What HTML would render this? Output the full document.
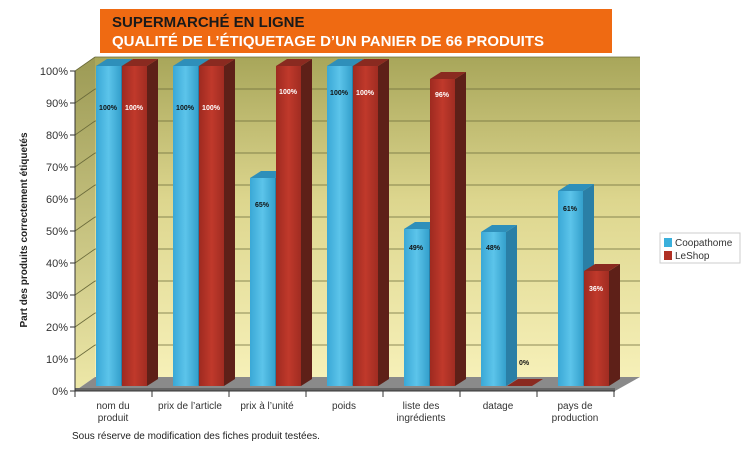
<!DOCTYPE html>
<html><head><meta charset="utf-8"><style>
body{margin:0;background:#fff;}
svg{display:block;font-family:"Liberation Sans",sans-serif;}
</style></head><body>
<svg width="750" height="450" viewBox="0 0 750 450" xmlns="http://www.w3.org/2000/svg">
<defs>
<linearGradient id="wall" x1="0" y1="0" x2="0" y2="1">
<stop offset="0" stop-color="#a8a65a"/><stop offset="0.45" stop-color="#ddd68e"/><stop offset="1" stop-color="#f6f0b8"/>
</linearGradient>
<linearGradient id="side" x1="0" y1="0" x2="0" y2="1">
<stop offset="0" stop-color="#9c9a55"/><stop offset="1" stop-color="#eee8a8"/>
</linearGradient>
<linearGradient id="blue" x1="0" y1="0" x2="1" y2="0">
<stop offset="0" stop-color="#3aa8d6"/><stop offset="0.5" stop-color="#5cc4ea"/><stop offset="1" stop-color="#34a0cc"/>
</linearGradient>
<linearGradient id="red" x1="0" y1="0" x2="1" y2="0">
<stop offset="0" stop-color="#9e2a20"/><stop offset="0.5" stop-color="#c0392b"/><stop offset="1" stop-color="#a02c22"/>
</linearGradient>
</defs>
<rect x="100" y="9" width="512" height="44" fill="#ef6a12"/>
<text x="112" y="27" font-size="15" font-weight="bold" fill="#1a1a1a">SUPERMARCHÉ EN LIGNE</text>
<text x="112" y="46" font-size="15" font-weight="bold" fill="#fff">QUALITÉ DE L’ÉTIQUETAGE D’UN PANIER DE 66 PRODUITS</text>
<rect x="95" y="57" width="545" height="320" fill="url(#wall)"/>
<polygon points="75,71 95,57 95,377 75,391" fill="url(#side)"/>
<g stroke="#6a6a3a" stroke-width="0.8">
<line x1="95" y1="57" x2="640" y2="57"/><line x1="75" y1="71" x2="95" y2="57"/>
<line x1="95" y1="89" x2="640" y2="89"/><line x1="75" y1="103" x2="95" y2="89"/>
<line x1="95" y1="121" x2="640" y2="121"/><line x1="75" y1="135" x2="95" y2="121"/>
<line x1="95" y1="153" x2="640" y2="153"/><line x1="75" y1="167" x2="95" y2="153"/>
<line x1="95" y1="185" x2="640" y2="185"/><line x1="75" y1="199" x2="95" y2="185"/>
<line x1="95" y1="217" x2="640" y2="217"/><line x1="75" y1="231" x2="95" y2="217"/>
<line x1="95" y1="249" x2="640" y2="249"/><line x1="75" y1="263" x2="95" y2="249"/>
<line x1="95" y1="281" x2="640" y2="281"/><line x1="75" y1="295" x2="95" y2="281"/>
<line x1="95" y1="313" x2="640" y2="313"/><line x1="75" y1="327" x2="95" y2="313"/>
<line x1="95" y1="345" x2="640" y2="345"/><line x1="75" y1="359" x2="95" y2="345"/>
</g>
<polygon points="75,391 95,377 640,377 615,391" fill="#8a8a8a"/>
<rect x="75" y="388" width="540" height="3" fill="#666"/>

<!-- bars: blue top #2e8fba side #2a7fa6 ; red top #8a2a20 side #5e2018 -->
<g>
<!-- cat0 -->
<polygon points="121,66 132,59 132,379 121,386" fill="#2a7fa6"/><polygon points="96,66 107,59 132,59 121,66" fill="#2e8fba"/><rect x="96" y="66" width="25" height="320" fill="url(#blue)"/>
<polygon points="147,66 158,59 158,379 147,386" fill="#5e2018"/><polygon points="122,66 133,59 158,59 147,66" fill="#8a2a20"/><rect x="122" y="66" width="25" height="320" fill="url(#red)"/>
<!-- cat1 -->
<polygon points="198,66 209,59 209,379 198,386" fill="#2a7fa6"/><polygon points="173,66 184,59 209,59 198,66" fill="#2e8fba"/><rect x="173" y="66" width="25" height="320" fill="url(#blue)"/>
<polygon points="224,66 235,59 235,379 224,386" fill="#5e2018"/><polygon points="199,66 210,59 235,59 224,66" fill="#8a2a20"/><rect x="199" y="66" width="25" height="320" fill="url(#red)"/>
<!-- cat2 -->
<polygon points="275,178 286,171 286,379 275,386" fill="#2a7fa6"/><polygon points="250,178 261,171 286,171 275,178" fill="#2e8fba"/><rect x="250" y="178" width="25" height="208" fill="url(#blue)"/>
<polygon points="301,66 312,59 312,379 301,386" fill="#5e2018"/><polygon points="276,66 287,59 312,59 301,66" fill="#8a2a20"/><rect x="276" y="66" width="25" height="320" fill="url(#red)"/>
<!-- cat3 -->
<polygon points="352,66 363,59 363,379 352,386" fill="#2a7fa6"/><polygon points="327,66 338,59 363,59 352,66" fill="#2e8fba"/><rect x="327" y="66" width="25" height="320" fill="url(#blue)"/>
<polygon points="378,66 389,59 389,379 378,386" fill="#5e2018"/><polygon points="353,66 364,59 389,59 378,66" fill="#8a2a20"/><rect x="353" y="66" width="25" height="320" fill="url(#red)"/>
<!-- cat4 -->
<polygon points="429,229 440,222 440,379 429,386" fill="#2a7fa6"/><polygon points="404,229 415,222 440,222 429,229" fill="#2e8fba"/><rect x="404" y="229" width="25" height="157" fill="url(#blue)"/>
<polygon points="455,79 466,72 466,379 455,386" fill="#5e2018"/><polygon points="430,79 441,72 466,72 455,79" fill="#8a2a20"/><rect x="430" y="79" width="25" height="307" fill="url(#red)"/>
<!-- cat5 -->
<polygon points="506,232 517,225 517,379 506,386" fill="#2a7fa6"/><polygon points="481,232 492,225 517,225 506,232" fill="#2e8fba"/><rect x="481" y="232" width="25" height="154" fill="url(#blue)"/>
<polygon points="507,386 518,379 543,379 532,386" fill="#8a2a20"/>
<!-- cat6 -->
<polygon points="583,191 594,184 594,379 583,386" fill="#2a7fa6"/><polygon points="558,191 569,184 594,184 583,191" fill="#2e8fba"/><rect x="558" y="191" width="25" height="195" fill="url(#blue)"/>
<polygon points="609,271 620,264 620,379 609,386" fill="#5e2018"/><polygon points="584,271 595,264 620,264 609,271" fill="#8a2a20"/><rect x="584" y="271" width="25" height="115" fill="url(#red)"/>
</g>
<g font-size="7" font-weight="bold" text-anchor="middle">
<text x="108" y="110" fill="#111">100%</text><text x="134" y="110" fill="#fff">100%</text>
<text x="185" y="110" fill="#111">100%</text><text x="211" y="110" fill="#fff">100%</text>
<text x="262" y="207" fill="#111">65%</text><text x="288" y="94" fill="#fff">100%</text>
<text x="339" y="95" fill="#111">100%</text><text x="365" y="95" fill="#fff">100%</text>
<text x="416" y="250" fill="#111">49%</text><text x="442" y="97" fill="#fff">96%</text>
<text x="493" y="250" fill="#111">48%</text><text x="524" y="365" fill="#111">0%</text>
<text x="570" y="211" fill="#111">61%</text><text x="596" y="291" fill="#fff">36%</text>
</g>

<g stroke="#333" stroke-width="1">
<line x1="75" y1="71" x2="75" y2="391"/>
<line x1="75" y1="391" x2="615" y2="391"/>
<line x1="70" y1="71" x2="75" y2="71"/><line x1="70" y1="103" x2="75" y2="103"/><line x1="70" y1="135" x2="75" y2="135"/><line x1="70" y1="167" x2="75" y2="167"/><line x1="70" y1="199" x2="75" y2="199"/><line x1="70" y1="231" x2="75" y2="231"/><line x1="70" y1="263" x2="75" y2="263"/><line x1="70" y1="295" x2="75" y2="295"/><line x1="70" y1="327" x2="75" y2="327"/><line x1="70" y1="359" x2="75" y2="359"/><line x1="70" y1="391" x2="75" y2="391"/>
<line x1="75" y1="391" x2="75" y2="397"/><line x1="152" y1="391" x2="152" y2="397"/><line x1="229" y1="391" x2="229" y2="397"/><line x1="306" y1="391" x2="306" y2="397"/><line x1="383" y1="391" x2="383" y2="397"/><line x1="460" y1="391" x2="460" y2="397"/><line x1="537" y1="391" x2="537" y2="397"/><line x1="614" y1="391" x2="614" y2="397"/>
</g>
<g font-size="11" fill="#333" text-anchor="end">
<text x="68" y="75">100%</text><text x="68" y="107">90%</text><text x="68" y="139">80%</text><text x="68" y="171">70%</text><text x="68" y="203">60%</text><text x="68" y="235">50%</text><text x="68" y="267">40%</text><text x="68" y="299">30%</text><text x="68" y="331">20%</text><text x="68" y="363">10%</text><text x="68" y="395">0%</text>
</g>
<text transform="translate(27,230) rotate(-90)" font-size="10" font-weight="bold" fill="#222" text-anchor="middle">Part des produits correctement étiquetés</text>
<g font-size="10" fill="#333" text-anchor="middle">
<text x="113" y="409">nom du</text><text x="113" y="421">produit</text>
<text x="190" y="409">prix de l’article</text>
<text x="267" y="409">prix à l’unité</text>
<text x="344" y="409">poids</text>
<text x="421" y="409">liste des</text><text x="421" y="421">ingrédients</text>
<text x="498" y="409">datage</text>
<text x="575" y="409">pays de</text><text x="575" y="421">production</text>
</g>
<text x="72" y="439" font-size="10" fill="#222">Sous réserve de modification des fiches produit testées.</text>
<rect x="660" y="233" width="80" height="30" fill="#fff" stroke="#ccc"/>
<rect x="664" y="238" width="8" height="9" fill="#3ab0dc"/><text x="675" y="246" font-size="10" fill="#333">Coopathome</text>
<rect x="664" y="251" width="8" height="9" fill="#b03024"/><text x="675" y="259" font-size="10" fill="#333">LeShop</text>
</svg>
</body></html>
